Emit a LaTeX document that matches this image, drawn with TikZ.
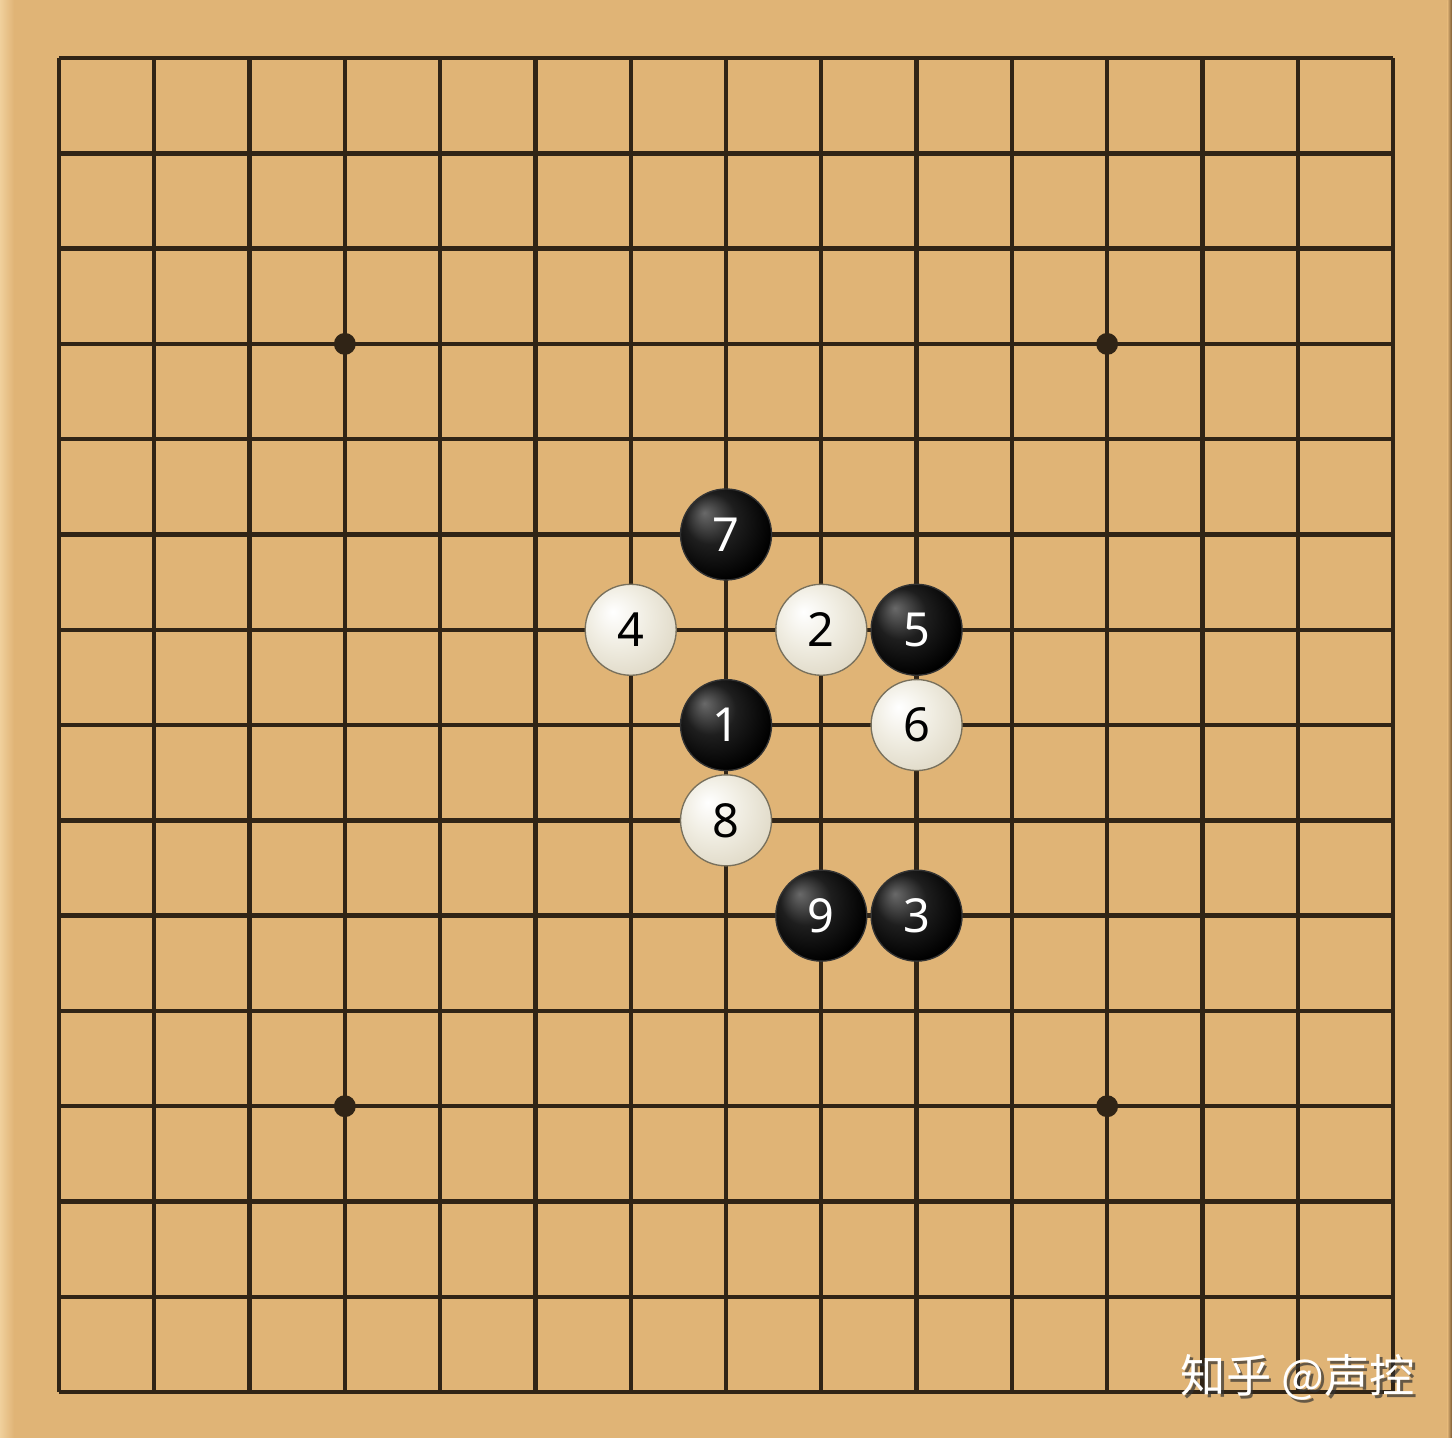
\documentclass[tikz,border=0pt]{standalone}
\usepackage{fontspec}
\setmainfont{Noto Sans}
\newfontfamily\cjk{Noto Sans CJK SC}
\usepackage{xcolor}
\usepackage{tikz}

\definecolor{board}{RGB}{224,180,118}
\definecolor{boardlight}{RGB}{240,208,156}
\definecolor{boardedge}{RGB}{120,88,50}
\definecolor{gridcol}{RGB}{48,36,22}
\definecolor{blackhi}{RGB}{105,105,105}
\definecolor{blackmid}{RGB}{30,30,30}
\definecolor{whitemid}{RGB}{240,237,226}
\definecolor{whitelow}{RGB}{216,208,186}
\definecolor{whiteedge}{RGB}{172,160,132}

\pgfdeclareradialshading{blackstone}{\pgfpoint{-12bp}{12bp}}{%
  color(0bp)=(blackhi); color(14bp)=(blackmid); color(30bp)=(black); color(50bp)=(black)}
\pgfdeclareradialshading{whitestone}{\pgfpoint{-10bp}{10bp}}{%
  color(0bp)=(white); color(16bp)=(whitemid); color(40bp)=(whitelow); color(58bp)=(whiteedge)}

\begin{document}
\begin{tikzpicture}[line width=1.3pt]

	\tikzstyle{gridline} = [draw=gridcol,line width=1.3pt]
	\tikzstyle{star} = [circle,fill=gridcol,inner sep=0pt,minimum size=0.23cm]
	\tikzstyle{stone} = [circle,inner sep=0pt,minimum size=0.955cm,font=\fontsize{14}{14}\selectfont]
	\tikzstyle{bstone} = [stone,shading=blackstone,draw=black!80,line width=0.4pt,text=white]
	\tikzstyle{wstone} = [stone,shading=whitestone,draw=whiteedge!70!black,line width=0.4pt,text=black]

	\useasboundingbox (-0.619,0.609) rectangle (14.619,-14.48);

	% board
	\fill[board] (-0.619,0.609) rectangle (14.619,-14.48);
	\shade[left color=boardlight,right color=board] (-0.619,0.609) rectangle (-0.47,-14.48);
	\shade[left color=board,right color=boardedge] (14.57,0.609) rectangle (14.619,-14.48);

	% lines
	\foreach \i in {0,...,14} {
		\draw[gridline] (\i,0) -- (\i,-14);
		\draw[gridline] (0,-\i) -- (14,-\i);
	}

	% star points
	\node[star] (st1) at (3,-3) {};
	\node[star] (st2) at (11,-3) {};
	\node[star] (st3) at (3,-11) {};
	\node[star] (st4) at (11,-11) {};

	% stones
	\node[bstone] (s1) at (7,-7) {1};
	\node[wstone] (s2) at (8,-6) {2};
	\node[bstone] (s3) at (9,-9) {3};
	\node[wstone] (s4) at (6,-6) {4};
	\node[bstone] (s5) at (9,-6) {5};
	\node[wstone] (s6) at (9,-7) {6};
	\node[bstone] (s7) at (7,-5) {7};
	\node[wstone] (s8) at (7,-8) {8};
	\node[bstone] (s9) at (8,-9) {9};

	% watermark
	\node[text=black!80,opacity=0.7,font=\cjk\fontsize{13.5}{14}\selectfont] (wmshadow) at (13.03,-13.88) {知乎 @声控};
	\node[text=white,font=\cjk\fontsize{13.5}{14}\selectfont] (wm) at (13.0,-13.85) {知乎 @声控};
\end{tikzpicture}
\end{document}
